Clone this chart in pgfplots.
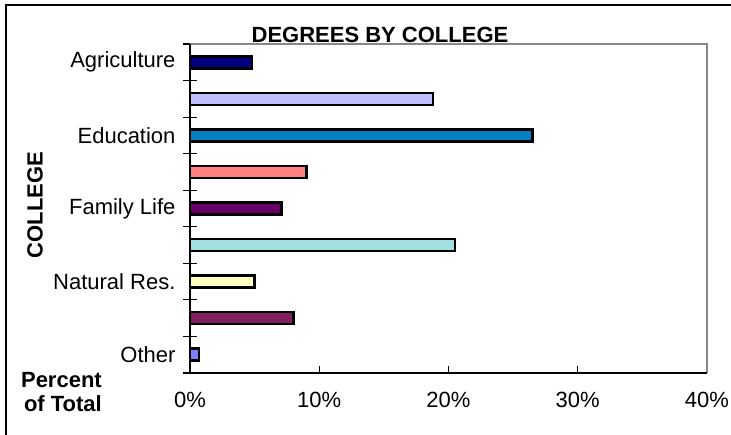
\documentclass[border=0pt]{standalone}
\usepackage{pgfplots}
\pgfplotsset{compat=1.18}
\usepackage{fontspec}
\setmainfont{Liberation Sans}

\definecolor{agri}{HTML}{000080}
\definecolor{c2}{HTML}{C0C0FF}
\definecolor{educ}{HTML}{0080C0}
\definecolor{c4}{HTML}{FF8080}
\definecolor{fam}{HTML}{660066}
\definecolor{c6}{HTML}{A0E0E0}
\definecolor{natres}{HTML}{FFFFC0}
\definecolor{c8}{HTML}{802060}
\definecolor{other}{HTML}{8080FF}
\definecolor{frame}{HTML}{888888}

\newcommand{\lbl}{\fontsize{22}{24}\selectfont}

\begin{document}
\begin{tikzpicture}
\useasboundingbox (0,0) rectangle (731pt,-435pt);
\draw[line width=1.2pt] (6pt,-440pt) -- (6pt,-5pt) -- (740pt,-5pt);
\begin{axis}[
  at={(190pt,-373pt)}, anchor=south west,
  scale only axis, width=517pt, height=329pt,
  xmin=0, xmax=40, ymin=0.5, ymax=9.5, y dir=reverse,
  clip=false,
  axis line style={draw=none},
  xtick={0,10,20,30,40},
  xticklabel={\pgfmathprintnumber[assume math mode=true]{\tick}\%},
  xtick pos=bottom, ytick pos=left,
  ytick={1,3,5,7,9},
  yticklabels={Agriculture,Education,Family Life,Natural Res.,Other},
  minor ytick={0.5,1.5,2.5,3.5,4.5,5.5,6.5,7.5,8.5,9.5},
  tick align=inside,
  major tick length=7pt, minor tick length=14pt,
  every major y tick/.style={draw=none},
  every minor y tick/.style={xshift=-7pt, draw=black, line width=1.2pt},
  every major x tick/.style={draw=black, line width=1.2pt},
  tick label style={font=\lbl},
  xticklabel style={yshift=-16pt},
  yticklabel style={xshift=-11pt},
  every axis plot/.append style={xbar, bar width=12pt, bar shift=0pt, draw=black, line width=2.6pt},
]
\addplot[fill=agri] coordinates {(4.8,1)};
\addplot[fill=c2] coordinates {(18.8,2)};
\addplot[fill=educ] coordinates {(26.5,3)};
\addplot[fill=c4] coordinates {(9.0,4)};
\addplot[fill=fam] coordinates {(7.1,5)};
\addplot[fill=c6] coordinates {(20.5,6)};
\addplot[fill=natres] coordinates {(5.0,7)};
\addplot[fill=c8] coordinates {(8.0,8)};
\addplot[fill=other] coordinates {(0.7,9)};
\draw[frame, line width=2.5pt] (rel axis cs:0,1) -- (rel axis cs:1,1) -- (rel axis cs:1,0);
\draw[black, line width=1.6pt] (rel axis cs:0,1) -- (rel axis cs:0,0) -- (rel axis cs:1,0);
\end{axis}
\node[font=\bfseries\lbl, anchor=base] at (380pt,-43pt) {DEGREES BY COLLEGE};
\node[font=\bfseries\lbl, rotate=90] at (35pt,-205pt) {COLLEGE};
\node[font=\bfseries\lbl, anchor=base east, inner sep=0pt] at (102pt,-388pt) {Percent};
\node[font=\bfseries\lbl, anchor=base east, inner sep=0pt] at (102pt,-412pt) {of Total};
\end{tikzpicture}
\end{document}
